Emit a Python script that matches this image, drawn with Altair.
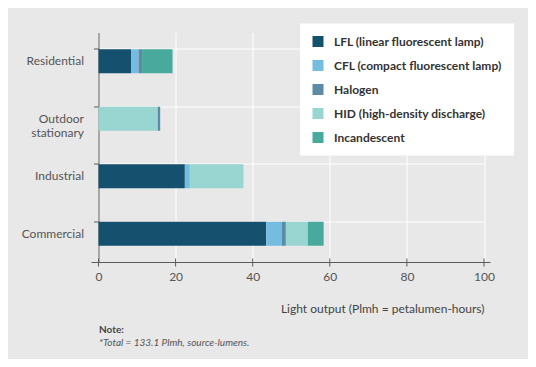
import altair as alt
import pandas as pd

sectors = ["Residential", "Outdoor stationary", "Industrial", "Commercial"]
lamps = ["LFL (linear fluorescent lamp)", "CFL (compact fluorescent lamp)", "Halogen",
         "HID (high-density discharge)", "Incandescent"]
colors = ["#15506e", "#74bde0", "#5d8aa6", "#99d5d1", "#47aa9d"]

# values per sector, in lamp order
lfl = [8.5, 0.0, 22.4, 43.5]
cfl = [1.9, 0.0, 1.3, 4.1]
halogen = [0.9, 0.7, 0.0, 1.0]
hid = [0.0, 15.3, 13.9, 5.7]
incandescent = [7.9, 0.0, 0.0, 4.1]

x_ticks = [0, 20, 40, 60, 80, 100]

# stacking order per sector (outdoor shows halogen after HID)
stack_orders = [
    [0, 1, 2, 3, 4],
    [0, 1, 3, 2, 4],
    [0, 1, 2, 3, 4],
    [0, 1, 2, 3, 4],
]

rows = []
series = [lfl, cfl, halogen, hid, incandescent]
for si, s in enumerate(sectors):
    for li, lamp in enumerate(lamps):
        rows.append({"sector": s, "lamp": lamp, "value": series[li][si],
                     "ord": stack_orders[si].index(li)})
df = pd.DataFrame(rows)

FONT = "Lato"
AXC = "#5a5a5a"

bars = alt.Chart(df).mark_bar(size=24).encode(
    y=alt.Y("sector:N", sort=sectors, title=None,
            scale=alt.Scale(paddingInner=0.58, paddingOuter=0.29),
            axis=alt.Axis(bandPosition=0, grid=True, gridColor="white", gridWidth=1,
                          domainColor=AXC, tickColor=AXC, tickSize=5,
                          labelColor="#555", labelFontSize=12, labelFont=FONT,
                          labelPadding=10, labelBaseline="middle",
                          labelExpr="datum.label == 'Outdoor stationary' ? ['Outdoor', 'stationary'] : datum.label")),
    x=alt.X("value:Q", stack="zero", title="Light output (Plmh = petalumen-hours)",
            scale=alt.Scale(domain=[0, 100], nice=False),
            axis=alt.Axis(values=x_ticks, grid=True, gridColor="white",
                          domain=False, ticks=False, labelFlush=False,
                          labelColor="#555", labelFontSize=12, labelFont=FONT,
                          labelPadding=9,
                          titleFont=FONT, titleFontSize=12, titleFontWeight="normal",
                          titleColor="#444", titleAnchor="end", titleAlign="right",
                          titleBaseline="middle", titleX=385.5, titleY=46)),
    color=alt.Color("lamp:N", sort=lamps, scale=alt.Scale(domain=lamps, range=colors),
                    legend=alt.Legend(title=None, orient="none", legendX=201.5, legendY=-9,
                                      fillColor="white", padding=12, symbolType="square",
                                      symbolSize=121, symbolStrokeWidth=0, rowPadding=12,
                                      labelFont=FONT, labelFontSize=12, labelFontWeight="bold",
                                      labelColor="#333", labelOffset=10, labelLimit=300)),
    order=alt.Order("ord:Q"),
)

axis_line = alt.Chart(pd.DataFrame({"v": [0]})).mark_rule(color=AXC, strokeWidth=1).encode(
    x=alt.value(-7), x2=alt.value(392), y=alt.value(230))

tick_df = pd.DataFrame({"v": x_ticks})
ticks = alt.Chart(tick_df).mark_rule(color=AXC, strokeWidth=1).encode(
    x=alt.X("v:Q"), y=alt.value(226), y2=alt.value(234))

note_df = pd.DataFrame({"t": ["Note:"]})
note = alt.Chart(note_df).mark_text(align="left", baseline="middle", font=FONT,
                                    fontSize=10, fontWeight="bold", color="#444").encode(
    text="t:N", x=alt.value(0.5), y=alt.value(297))

foot_df = pd.DataFrame({"t": ["*Total = 133.1 Plmh, source-lumens."]})
foot = alt.Chart(foot_df).mark_text(align="left", baseline="middle", font=FONT,
                                    fontSize=10, fontStyle="italic", color="#555").encode(
    text="t:N", x=alt.value(0.5), y=alt.value(310))

chart = alt.layer(bars, axis_line, ticks, note, foot).properties(
    width=385.5, height=230,
    autosize=alt.AutoSizeParams(type="none"),
    padding={"left": 90.5, "top": 24.5, "right": 44, "bottom": 96.5},
    background="#e8e8e8",
).configure_view(stroke=None, fill="#e8e8e8")

chart.save("out.html", embed_options={"renderer": "svg", "actions": False})
